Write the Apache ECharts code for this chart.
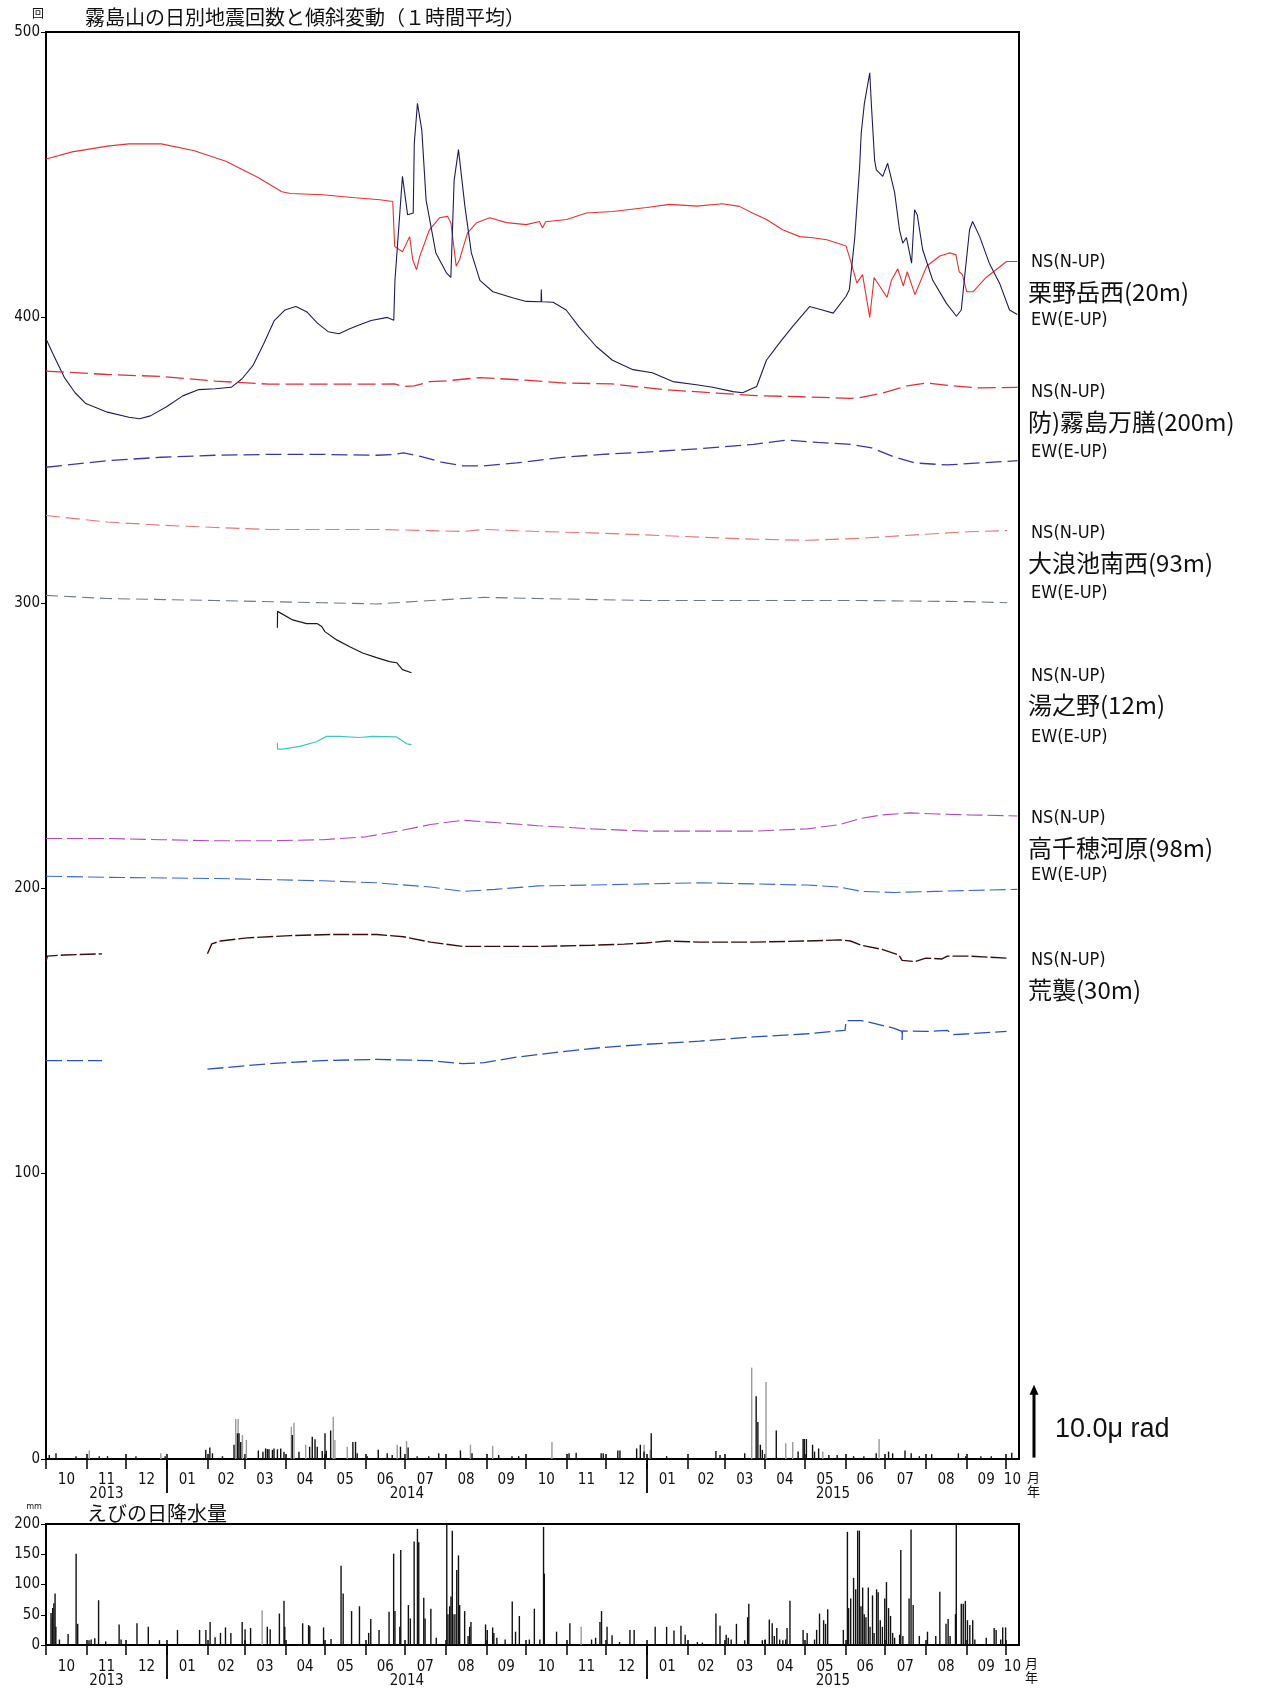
<!DOCTYPE html>
<html><head><meta charset="utf-8">
<script src="https://cdn.jsdelivr.net/npm/echarts@6/dist/echarts.min.js"></script>
<style>html,body{margin:0;padding:0;background:#fff}#c{width:1287px;height:1689px}</style>
</head><body><div id="c"></div>
<script>
// ---------- axis definitions (x = days since 2013-10-01) ----------
const startMs = Date.UTC(2013, 9, 1);
const xMax = 740;
const monthLabels = ['10','11','12','01','02','03','04','05','06','07','08','09','10','11','12','01','02','03','04','05','06','07','08','09','10'];
const yearLabels = ['2013','2014','2015'];
const quakeTicks = [0,100,200,300,400,500];
const rainTicks = [0,50,100,150,200];

// ---------- tilt series [day, value] ----------
const kuriNS = [[0,455.5],[20,458],[46.7,460],[63.1,460.8],[87.6,460.8],[112.2,458.5],[136.8,454.7],[161.3,449],[179.4,444],[185.9,443.4],[210.5,443],[235,441.9],[253.9,441.2],[263.7,440.6],[265.2,424.9],[271.1,423],[276.6,428.3],[278.9,420.2],[281.8,416.7],[284.2,421.3],[291.6,430.7],[299.3,434.9],[305.5,435.4],[308,433],[312,417.9],[314.5,420.2],[320.6,429.6],[327.6,433.2],[337.4,434.9],[350.3,433.2],[365.3,432.5],[375.3,433.6],[377.6,431.3],[380,433.5],[396,434.3],[411,436.6],[430.8,437.1],[456.8,438.5],[474.2,439.6],[495,439],[514.3,439.8],[527.4,438.9],[537.3,436.6],[548,434.3],[560.2,430.7],[573.3,428.3],[583.1,427.9],[593.8,427.2],[608.5,425],[611.8,420],[616.7,412],[621,415],[626.5,400],[629.8,414],[634,411],[639.6,407],[643,413],[647.8,417],[652,411],[655,416],[660.9,408],[669.9,418],[679.8,421.5],[687.1,422.6],[692,422],[694.5,416],[697,415],[700.2,409],[705.2,409],[715,414],[730.5,419.6],[738.7,419.6]];
const kuriEW = [[0,392.5],[5.7,386.8],[13.9,379],[22.1,373.6],[30.3,369.8],[46.7,366.8],[63.1,365],[71.3,364.5],[79.4,365.5],[91.7,368.7],[104,372.5],[116.3,374.7],[128.6,375],[140.9,375.5],[149.1,378.5],[157.2,383],[165.4,390.6],[173.6,398.9],[181.8,402.6],[190,403.8],[198.2,402],[206.4,398],[214.6,395],[222.8,394.3],[231,396],[239.1,397.5],[247.3,398.9],[259.6,400],[264.5,399],[265.4,413],[271.1,449.4],[275,436],[279.3,436.6],[280.1,461],[282.5,475],[285.8,465.7],[289.1,441],[296.5,422.6],[304.7,415.5],[307.9,414],[310.4,448],[313.7,458.8],[318.6,438.9],[323.5,422.6],[330,413],[339.9,409],[355.4,406.8],[365.3,405.6],[376.5,405.5],[376.7,409.8],[377,405.5],[385.7,405.3],[395.6,402.6],[405.4,396.7],[418.5,389.8],[430.8,385],[446.4,381.7],[461.1,380.6],[476.7,377.5],[494.7,376.4],[507,375.5],[522.5,374],[529.9,373.6],[540.5,375.8],[547.9,385],[557.7,391],[567.6,396.7],[580.7,403.8],[590.5,402.6],[598.7,401.5],[608.5,407.4],[611,409.8],[615.1,428],[618.8,452.8],[620,464.5],[622.4,475],[626.5,485.7],[627.8,474],[630.2,455],[631.5,451.7],[636.4,449.4],[640.1,454],[645.4,443.8],[649.1,430.7],[651.6,426],[654.4,428],[658.3,419],[660.6,437.7],[662.6,436],[666.7,423.8],[674.4,413],[684.7,405],[692.4,400.4],[696.1,402.6],[698.6,414],[702.4,430.7],[704.7,433.6],[710.1,428.3],[717.4,419],[725.2,412],[732.8,402.6],[738.7,401]];
const mansenNS = [[0,381.2],[46.7,380],[87.6,379.3],[128.6,377.7],[169.5,376.6],[210.5,376.6],[251.4,376.6],[265,376.7],[271,375.8],[280,376],[292,377.5],[305,377.8],[330,378.9],[365,378],[395,377],[430,376.7],[470,374.7],[510,373.5],[540,372.6],[575,372.2],[600,371.8],[612,371.6],[620,372],[636,373.5],[655,376],[670,377],[690,376],[710,375.3],[739,375.5]];
const mansenEW = [[0,347.5],[46.7,349.8],[87.6,351],[128.6,351.7],[169.5,352],[210.5,352],[251.4,351.7],[265,352],[272,352.5],[284,351.4],[300.6,349.3],[317,348],[333,348],[358,349],[391,350.9],[423,352],[456,352.8],[497,354],[538,355.5],[563,357],[587,356.2],[612,355.5],[628,354.3],[644,351.3],[661,349],[685,348.3],[710,349],[739,349.8]];
const onamiNS = [[0,330.6],[46.7,328.3],[87.6,327.2],[128.6,326.4],[169.5,325.7],[210.5,325.7],[251.4,325.7],[292.4,325.3],[317,325],[333,325.7],[374,325],[415,324.5],[456,323.8],[497,323],[538,322.3],[579,321.9],[620,322.6],[661,323.8],[702,324.9],[731,325.3]];
const onamiEW = [[0,302.6],[46.7,301.5],[128.6,300.8],[210.5,300],[251.4,299.6],[292.4,300.8],[333,301.9],[374,301.5],[456,300.8],[538,300.8],[620,300.8],[702,300.4],[731,300]];
const yunonoNS = [[176,291.3],[176.1,297],[187.6,294],[198.2,292.7],[206.4,292.7],[209.7,291.7],[212.1,289.9],[221.1,287],[231,284.6],[240.8,282.4],[251.4,280.8],[261.3,279.4],[266.7,279],[271.1,276.6],[278,275.5]];
const yunonoEW = [[176,251],[176.1,248.7],[180,248.7],[192.9,249.7],[205.6,251.3],[213.4,253.2],[223.3,253.2],[238.5,252.8],[248.2,253.2],[266.7,253],[274.4,250.6],[278,250.3]];
const takaNS = [[0,217.4],[46.7,217.4],[87.6,217],[128.6,216.6],[169.5,216.6],[210.5,217],[243.2,218],[267.8,220],[292.4,222.3],[317,223.8],[341.5,223],[374.3,221.9],[415.2,220.8],[456.2,220],[497.1,220],[538.1,220],[579,220.8],[603.6,222.3],[620,224.5],[636.4,225.7],[656.8,226.4],[677.3,226],[701.9,225.7],[738.7,225.3]];
const takaEW = [[0,204.2],[46.7,203.8],[128.6,203.4],[210.5,202.6],[251.4,201.9],[292.4,200.4],[317,198.9],[341.5,199.6],[374.3,200.8],[415.2,201.1],[456.2,201.5],[497.1,201.9],[538.1,201.5],[579,201.1],[603.6,200.4],[620,198.9],[644.6,198.5],[677.3,198.9],[738.7,199.6]];
const arasoNS1 = [[0,174.3],[1,176.2],[13.9,176.6],[42.6,177]];
const arasoNS2 = [[122.8,177],[126.1,180.5],[132.7,181.5],[153.2,182.6],[185.9,183.4],[218.7,183.8],[251.4,183.8],[271.9,183],[292.4,181.1],[317,179.6],[341.5,179.6],[374.3,179.6],[415.2,180],[439.8,180.4],[456.2,180.8],[472.6,181.5],[497.1,181.1],[538.1,181.1],[579,181.5],[603.6,181.9],[611.8,181.5],[620,180],[636.4,178.5],[648.6,176.6],[651.1,174.7],[660.9,174.3],[669.1,175.5],[681.4,175.2],[685.5,176.2],[701.9,176.2],[730.5,175.5]];
const arasoEW1 = [[0,139.6],[42.6,139.6]];
const arasoEW2 = [[122.8,136.6],[169.5,138.5],[210.5,139.6],[251.4,140],[292.4,139.6],[317,138.5],[333.3,138.9],[357.9,140.8],[390.7,142.6],[423.4,144.2],[456.2,145.3],[497.1,146.4],[538.1,147.9],[579,149],[607.7,150.2],[608.5,153.6],[620,153.6],[628.2,152.8],[644.6,151],[651,149.8],[651.1,146.8],[651.3,150],[669.1,149.8],[685.5,150.2],[689.6,148.7],[701.9,149],[730.5,149.8]];

// ---------- daily earthquake counts [day, count] ----------
const quakeBlack = [[2.5,1.4],[7.6,2],[22.8,1],[40.5,1],[46.8,1],[68.4,1],[90.6,1],[121.5,3.2],[124.6,4],[126.6,2],[134.2,1],[143,5],[145.6,9],[146.8,9],[148.1,6],[161.5,3],[165,2.5],[167,3.7],[168.4,3.5],[169.6,3.4],[172.2,3.2],[173.4,3.7],[176,3.4],[178.5,3.7],[181,2.5],[187.3,8.4],[192.4,2.5],[200.5,4.3],[202.5,7.8],[204.6,6.9],[206.3,4.3],[210.1,2.8],[212.2,9],[213.2,2.9],[216.5,10],[233.4,6],[235.4,6],[236.7,2],[244.3,1],[252.7,3.2],[259.5,2],[263.3,1.4],[269.6,4.3],[275.4,4],[282.3,1],[291.1,1],[298.7,2],[315.2,3],[324,2],[344.3,1.4],[354.4,1],[359.5,1],[397.8,2],[403.2,2.2],[422.2,2],[423.8,2],[434.9,3],[436.5,3],[449.2,3.7],[452,5],[454.8,2.6],[460.3,9],[472,1],[509.5,2.8],[512.6,1.4],[531.4,2],[540.1,22],[541.4,13],[543.3,5],[544.8,3.2],[555.4,10],[572,2.6],[575.8,7],[576.7,7],[578.3,7],[583,5],[584.5,2.6],[587.6,3.7],[595.4,1.4],[601.7,1.4],[614.2,1],[622,1],[631.4,2],[640.8,2.6],[643.9,2],[653.3,3],[658,2],[664.2,1],[673.6,1.7],[693.9,2],[699.5,1],[711,1],[718.9,1],[734.5,2.2]];
const quakeGray = [[32.9,3],[87.3,2],[144.3,14],[146.1,14],[149.4,8.4],[152.4,6.7],[186.6,11.3],[188.6,12.7],[197.5,5],[218.5,14.8],[219.7,6.7],[229.1,4.3],[267.1,5],[274.2,6.3],[322.8,5],[339.7,4.6],[384.8,6],[454.9,5],[459.5,3.2],[536.7,32],[547.6,27],[562.6,5.5],[567.9,6],[590.8,2.6],[633.6,7]];

// ---------- daily rainfall at Ebino [day, mm] ----------
const rainBlack = [[3.8,53],[4.8,45],[5.1,61],[6,69],[6.9,85],[7.5,30],[10.2,9],[16.8,18],[22.9,151],[24.1,35],[32.7,8],[34.3,9],[37.1,11],[40,74],[45.4,6],[55.6,34],[57.1,9],[69.2,36],[77.8,30],[86.3,8],[100,25],[116.8,25],[121.6,25],[124.8,38],[128.6,13],[132.7,20],[136.5,29],[140.6,20],[149.2,38],[151.4,26],[155.6,28],[168.3,30],[170.5,26],[177.5,52],[181,73],[181.6,30],[195.2,36],[199.7,33],[200.6,31],[211.1,29],[216.8,10],[224.4,131],[226,85],[232.4,56],[238.4,64],[245.4,20],[247,43],[253.3,25],[260.9,55],[264.4,151],[265.4,56],[269.1,30],[269.8,157],[275.6,66],[277.1,44],[280,171],[282.5,192],[283.5,170],[287.3,78],[288.3,44],[292.7,60],[296.8,12],[304.8,200],[305.7,51],[307,64],[308,80],[309,189],[309.5,51],[311,51],[312.4,124],[313.7,148],[314.6,66],[318.4,56],[321,15],[322.2,30],[323.2,38],[334.3,34],[335.6,25],[339.7,29],[340.6,20],[342.9,12],[349.2,9],[354.6,72],[357.1,22],[360,48],[367.6,9],[371.4,60],[375.6,9],[378.4,195],[379,118],[388.3,22],[398.4,36],[414.9,9],[418,12],[421.3,38],[422.5,56],[426.7,30],[430.5,16],[436.2,5],[444.1,25],[447.3,25],[463.3,30],[472,30],[477.6,24],[482.9,32],[486.1,17],[495.4,5],[499.2,4],[509.5,52],[512.6,32],[517.3,17],[518.9,12],[521.1,9],[525.1,35],[531.4,8],[533.6,46],[534.5,68],[544.8,8],[547,9],[550.1,42],[552.3,36],[553.9,15],[555.8,28],[558,9],[560.4,8],[562.6,9],[563.6,28],[565.8,73],[575.8,25],[578.9,20],[584.5,9],[586.1,25],[588.3,52],[591.4,41],[592.9,35],[594.5,59],[606.4,25],[609.5,187],[610.4,61],[612,77],[614.2,111],[615.8,92],[617.3,189],[618.6,189],[619.8,64],[621.1,95],[622.3,51],[623.6,46],[625.4,95],[626.7,30],[628.6,82],[629.8,20],[631.7,92],[632.9,87],[634.5,41],[636.1,30],[637.9,77],[639.2,104],[640.8,61],[642.3,48],[643.9,20],[645.4,12],[649.2,17],[650.1,157],[651.7,15],[656.4,77],[657.9,191],[659.5,66],[664.2,15],[670.4,22],[676.7,15],[679.8,88],[684.5,35],[686.1,43],[687.6,15],[691.7,51],[692.3,200],[696.1,68],[697.6,68],[699.2,73],[700.8,41],[702.6,33],[704.8,41],[706.4,9],[715.1,12],[721.1,28],[722.6,25],[726.1,9],[727.6,29],[729.8,29]];
const rainGray = [[164.4,57],[407,30]];

// ---------- annotations ----------
const sideLabels = [
  ['NS(N-UP)',419.2,'s'],['栗野岳西(20m)',409,'b'],['EW(E-UP)',398.9,'s'],
  ['NS(N-UP)',373.6,'s'],['防)霧島万膳(200m)',363.4,'b'],['EW(E-UP)',352.8,'s'],
  ['NS(N-UP)',324.2,'s'],['大浪池南西(93m)',314,'b'],['EW(E-UP)',303.4,'s'],
  ['NS(N-UP)',274.3,'s'],['湯之野(12m)',264.2,'b'],['EW(E-UP)',252.8,'s'],
  ['NS(N-UP)',224.5,'s'],['高千穂河原(98m)',214.3,'b'],['EW(E-UP)',204.5,'s'],
  ['NS(N-UP)',174.7,'s'],['荒襲(30m)',164.5,'b']
];
const scaleBar = {from: 0.5, to: 26, text: '10.0μ rad'};

// ---------- derived tick positions (calendar) ----------
const monthStarts = [];
for (let i = 0; i < monthLabels.length; i++) monthStarts.push(Math.round((Date.UTC(2013, 9 + i, 1) - startMs) / 864e5));
const monthBounds = monthStarts.concat([xMax]);
const monthMids = monthLabels.map((_, i) => (monthBounds[i] + monthBounds[i + 1]) / 2);
const yearStarts = [];
for (let y = 2014; y <= 2015; y++) yearStarts.push(Math.round((Date.UTC(y, 0, 1) - startMs) / 864e5));
const yearBounds = [0].concat(yearStarts, [xMax]);
const yearMids = yearLabels.map((_, i) => (yearBounds[i] + yearBounds[i + 1]) / 2);

const NUM_FONT = "'DejaVu Sans Condensed','Liberation Sans Narrow',sans-serif";
const JP_FONT = "'Noto Sans CJK JP',sans-serif";

function findLabel(list, mids, v) {
  const i = mids.findIndex(m => Math.abs(m - v) < 0.01);
  return i >= 0 ? list[i] : '';
}

function xAxesFor(g, monthMargin, yearMargin) {
  return [
    { type: 'value', gridIndex: g, min: 0, max: xMax, position: 'bottom',
      axisLine: { show: true, lineStyle: { color: '#000', width: 2 } },
      axisTick: { show: true, customValues: monthStarts, length: 10, lineStyle: { color: '#000', width: 1.5 } },
      axisLabel: { show: true, customValues: monthMids, margin: monthMargin, fontSize: 15, color: '#111', fontFamily: NUM_FONT,
        formatter: v => findLabel(monthLabels, monthMids, v) },
      splitLine: { show: false },
      name: '月\n年', nameLocation: 'end', nameGap: 6,
      nameTextStyle: { fontSize: 13, color: '#111', fontFamily: JP_FONT, verticalAlign: 'top', lineHeight: 14, padding: [11, 0, 0, 0] } },
    { type: 'value', gridIndex: g, min: 0, max: xMax, position: 'bottom',
      axisLine: { show: false },
      axisTick: { show: true, customValues: yearStarts, length: 34, lineStyle: { color: '#000', width: 1.8 } },
      axisLabel: { show: true, customValues: yearMids, margin: yearMargin, fontSize: 15, color: '#111', fontFamily: NUM_FONT,
        formatter: v => findLabel(yearLabels, yearMids, v) },
      splitLine: { show: false } },
    { type: 'value', gridIndex: g, min: 0, max: xMax, position: 'bottom',
      axisLine: { show: false },
      axisTick: { show: true, inside: true, customValues: monthStarts, length: 5, lineStyle: { color: '#000', width: 1.5 } },
      axisLabel: { show: false }, splitLine: { show: false } }
  ];
}

function lineS(name, data, color, width, dash, opacity) {
  return { name, type: 'line', xAxisIndex: 0, yAxisIndex: 0, data, showSymbol: false, symbol: 'none',
    lineStyle: { color, width: width || 1, type: dash || 'solid', opacity: opacity == null ? 1 : opacity },
    silent: true, animation: false, z: 3 };
}
function barS(name, data, color, xi, yi) {
  return { name, type: 'bar', xAxisIndex: xi, yAxisIndex: yi, data, barWidth: 1.4, barGap: '-100%',
    itemStyle: { color }, animation: false, silent: true };
}

const chart = echarts.init(document.getElementById('c'), null, { renderer: 'canvas' });
const option = {
  animation: false,
  backgroundColor: '#fff',
  title: [
    { text: '霧島山の日別地震回数と傾斜変動（１時間平均）', left: 80, top: 2,
      textStyle: { fontSize: 20, fontWeight: 'normal', color: '#111', fontFamily: JP_FONT } },
    { text: 'えびの日降水量', left: 82, top: 1498,
      textStyle: { fontSize: 20, fontWeight: 'normal', color: '#111', fontFamily: JP_FONT } }
  ],
  grid: [
    { left: 46, top: 32, width: 973, height: 1427, show: true, borderColor: '#000', borderWidth: 2, backgroundColor: 'transparent' },
    { left: 46, top: 1524, width: 973, height: 127, show: true, borderColor: '#000', borderWidth: 2, backgroundColor: 'transparent' }
  ],
  xAxis: xAxesFor(0, 14, 28).concat(xAxesFor(1, 15, 29)),
  yAxis: [
    { type: 'value', gridIndex: 0, min: 0, max: 500, interval: 100,
      axisLine: { show: true, lineStyle: { color: '#000', width: 2 } },
      axisTick: { show: true, length: 5, lineStyle: { color: '#000' } },
      axisLabel: { fontSize: 15, color: '#111', fontFamily: NUM_FONT, margin: 6, customValues: quakeTicks },
      splitLine: { show: false },
      name: '回', nameLocation: 'end', nameGap: 13,
      nameTextStyle: { fontSize: 12, color: '#111', fontFamily: JP_FONT, align: 'right', padding: [0, 2, 0, 0] } },
    { type: 'value', gridIndex: 1, min: 0, max: 200, interval: 50,
      axisLine: { show: true, lineStyle: { color: '#000', width: 2 } },
      axisTick: { show: true, length: 5, lineStyle: { color: '#000' } },
      axisLabel: { fontSize: 15, color: '#111', fontFamily: NUM_FONT, margin: 6, customValues: rainTicks },
      splitLine: { show: false },
      name: 'mm', nameLocation: 'end', nameGap: 13,
      nameTextStyle: { fontSize: 9, color: '#111', fontFamily: NUM_FONT, align: 'right', padding: [0, 4, 0, 0] } }
  ],
  series: [
    barS('quakeGray', quakeGray, '#9a9a9a', 0, 0),
    barS('quakeBlack', quakeBlack, '#111', 0, 0),
    lineS('kuriNS', kuriNS, '#e8322f', 1.1),
    lineS('kuriEW', kuriEW, '#1c1c5c', 1.1),
    lineS('mansenNS', mansenNS, '#e0303a', 1.3, [18, 6]),
    lineS('mansenEW', mansenEW, '#3838a8', 1.3, [16, 6]),
    lineS('onamiNS', onamiNS, '#e67878', 1.1, [14, 6]),
    lineS('onamiEW', onamiEW, '#6a7a8a', 1.1, [12, 6]),
    lineS('yunonoNS', yunonoNS, '#1a1a1a', 1.2),
    lineS('yunonoEW', yunonoEW, '#3cc8c0', 1.2),
    lineS('takaNS', takaNS, '#b048c0', 1.1, [16, 5]),
    lineS('takaEW', takaEW, '#3868d0', 1.1, [16, 5]),
    lineS('arasoNS1', arasoNS1, '#3a0c0c', 1.4, [16, 3]),
    lineS('arasoNS2', arasoNS2, '#3a0c0c', 1.4, [16, 3]),
    lineS('arasoEW1', arasoEW1, '#2850b8', 1.3, [16, 5]),
    lineS('arasoEW2', arasoEW2, '#2850b8', 1.3, [16, 5]),
    barS('rainGray', rainGray, '#9a9a9a', 3, 1),
    barS('rainBlack', rainBlack, '#111', 3, 1)
  ]
};
chart.setOption(option);

// annotations positioned through the chart's own scales
const toY = v => chart.convertToPixel({ xAxisIndex: 0, yAxisIndex: 0 }, [0, v])[1];
const gridRight = chart.convertToPixel({ xAxisIndex: 0, yAxisIndex: 0 }, [xMax, 0])[0];
const graphics = sideLabels.map(([t, v, k]) => ({
  type: 'text', silent: true,
  style: { text: t, x: gridRight + (k === 's' ? 12 : 9), y: toY(v),
    fill: '#111', verticalAlign: 'middle', align: 'left',
    font: k === 's' ? `18px ${NUM_FONT}` : `24px ${JP_FONT}` }
}));
const yFrom = toY(scaleBar.from), yTo = toY(scaleBar.to);
graphics.push({ type: 'line', silent: true, shape: { x1: gridRight + 15, y1: yFrom, x2: gridRight + 15, y2: yTo + 8 },
  style: { stroke: '#000', lineWidth: 3 } });
graphics.push({ type: 'polygon', silent: true,
  shape: { points: [[gridRight + 15, yTo], [gridRight + 10.5, yTo + 10], [gridRight + 19.5, yTo + 10]] },
  style: { fill: '#000' } });
graphics.push({ type: 'text', silent: true,
  style: { text: scaleBar.text, x: gridRight + 36, y: (yFrom + yTo) / 2 + 8, fill: '#111', verticalAlign: 'middle',
    font: `27px 'Liberation Sans','DejaVu Sans',sans-serif` } });
chart.setOption({ graphic: graphics });
</script>
</body></html>
